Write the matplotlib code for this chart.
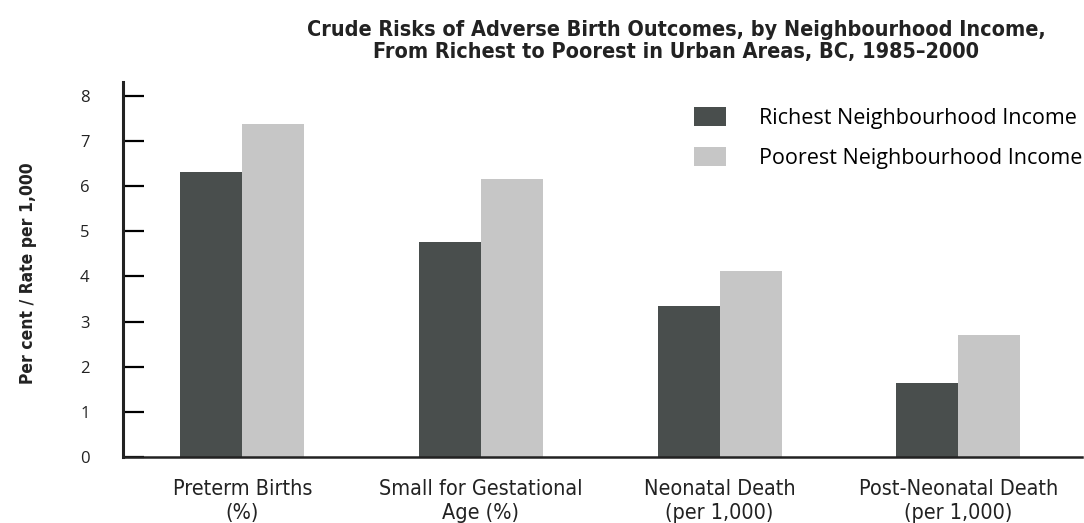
import matplotlib
matplotlib.use("Agg")
import matplotlib.pyplot as plt
from matplotlib import font_manager
import numpy as np

# data
categories = ["Preterm Births\n(%)", "Small for Gestational\nAge (%)",
              "Neonatal Death\n(per 1,000)", "Post-Neonatal Death\n(per 1,000)"]
richest = [6.3, 4.75, 3.35, 1.65]
poorest = [7.38, 6.15, 4.12, 2.7]
series_names = ["Richest Neighbourhood Income", "Poorest Neighbourhood Income"]
y_ticks = [0, 1, 2, 3, 4, 5, 6, 7, 8]

dark = "#494e4d"
light = "#c6c6c6"
ink = "#222222"

# condensed face for axis labels and title if there is one
has_condensed = any(f.name == "DejaVu Sans" and f.stretch == "condensed"
                    for f in font_manager.fontManager.ttflist)
if has_condensed:
    narrow = {"family": "DejaVu Sans", "stretch": "condensed"}
else:
    narrow = {"family": "Liberation Sans"}

fig = plt.figure(figsize=(10.84, 5.23), dpi=100)
ax = fig.add_axes([0.1135, 0.126, 0.885, 0.717])

x = np.arange(len(categories))
w = 0.26
ax.bar(x - w / 2, richest, width=w, color=dark, label=series_names[0])
ax.bar(x + w / 2, poorest, width=w, color=light, label=series_names[1])

ax.set_xlim(-0.5, 3.52)
ax.set_ylim(0, 8.3)
ax.set_yticks(y_ticks)
ax.set_yticklabels([str(t) for t in y_ticks], fontsize=12, family="Open Sans", color=ink)
ax.tick_params(axis="y", direction="in", length=15, width=1.6, pad=24)
ax.set_xticks(x)
ax.set_xticklabels(categories, fontsize=15.5, color=ink, **narrow)
ax.tick_params(axis="x", length=0, pad=16)

for s in ["top", "right"]:
    ax.spines[s].set_visible(False)
ax.spines["left"].set_linewidth(2.2)
ax.spines["bottom"].set_linewidth(1.8)
ax.spines["left"].set_color(ink)
ax.spines["bottom"].set_color(ink)

ax.set_ylabel("Per cent / Rate per 1,000", fontsize=12.5, fontweight="bold",
              color=ink, **narrow)
ax.yaxis.set_label_coords(-0.09, 0.49)

ax.legend(loc="upper left", bbox_to_anchor=(0.575, 0.985), frameon=False,
          prop={"family": "Open Sans", "size": 15.5}, handlelength=1.5,
          handleheight=0.95, handletextpad=1.5, labelspacing=0.85)

fig.text(0.624, 0.962, "Crude Risks of Adverse Birth Outcomes, by Neighbourhood Income,\n"
         "From Richest to Poorest in Urban Areas, BC, 1985\u20132000",
         ha="center", va="top", fontsize=15.5, fontweight="bold",
         color=ink, linespacing=1.15, **narrow)

fig.savefig("out.png", dpi=100)
